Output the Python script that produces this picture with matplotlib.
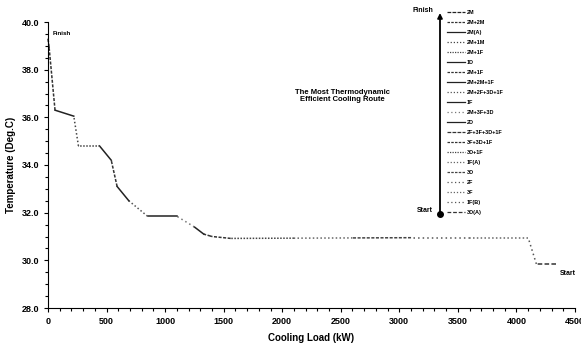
import numpy as np
import matplotlib
matplotlib.use("Agg")
import matplotlib.pyplot as plt
from matplotlib.lines import Line2D

plt.rcParams['font.family'] = ['Liberation Sans', 'DejaVu Sans']

# -- Route points, from Start (right) back to Finish (left)
load_kw = [4340, 4170, 4100, 3600, 3100, 2600, 2100, 1560, 1400, 1330, 1250,
           1100, 850, 690, 590, 540, 440, 260, 220, 60, 10, 0]
temp_c = [29.85, 29.85, 30.95, 30.95, 30.95, 30.94, 30.93, 30.92, 31.0, 31.1, 31.4,
          31.85, 31.85, 32.5, 33.1, 34.2, 34.8, 34.8, 36.05, 36.3, 38.9, 39.3]

# -- Chiller combination for each segment (Start -> Finish)
segment_labels = ["3D(A)", "1F(B)", "3F", "2F", "3D", "1F(A)", "3D+1F", "3F+3D+1F",
                  "2F+3F+3D+1F", "2D", "2M+3F+3D", "1F", "2M+2F+3D+1F", "2M+2M+1F",
                  "2M+1F", "1D", "2M+1F", "2M+1M", "2M(A)", "2M+2M", "2M"]

# -- Line style per segment
seg_styles = [(0, (3, 1.5)), (0, (1, 2)), (0, (1, 1.5)), (0, (1, 2)), (0, (2, 1)),
              (0, (1, 1.5)), (0, (1, 1)), (0, (2, 1)), (0, (3, 1)), '-', (0, (1, 2)),
              '-', (0, (1, 1.5)), '-', (0, (2, 1)), '-', (0, (1, 1)), (0, (1, 1.5)),
              '-', (0, (2, 1)), (0, (3, 1))]
seg_colors = ['#333333', '#555555', '#666666', '#555555', '#444444', '#666666',
              '#444444', '#333333', '#333333', '#222222', '#777777', '#222222',
              '#555555', '#222222', '#333333', '#222222', '#444444', '#444444',
              '#222222', '#333333', '#222222']

fig = plt.figure(figsize=(5.81, 3.45), dpi=100)
ax = fig.add_axes([48 / 581, 1 - 308 / 345, 527 / 581, 286 / 345])

handles = []
for i, lab in enumerate(segment_labels):
    ax.plot(load_kw[i:i + 2], temp_c[i:i + 2], color=seg_colors[i],
            linestyle=seg_styles[i], linewidth=1.1, clip_on=False)
    handles.append(Line2D([0], [0], color=seg_colors[i], linestyle=seg_styles[i],
                          linewidth=0.9, label=lab))

ax.set_xlim(0, 4500)
ax.set_ylim(28, 40)
ax.set_xticks(np.arange(0, 4501, 500))
ax.set_xticks(np.arange(0, 4501, 100), minor=True)
ax.set_yticks(np.arange(28, 40.1, 2))
ax.set_yticks(np.arange(28, 40.1, 0.5), minor=True)
ax.yaxis.set_major_formatter(matplotlib.ticker.FormatStrFormatter('%.1f'))
ax.spines['top'].set_visible(False)
ax.spines['right'].set_visible(False)
ax.tick_params(which='both', direction='out', labelsize=6.5, width=0.8)
ax.tick_params(which='major', length=3)
ax.tick_params(which='minor', length=2)
for lbl in ax.get_xticklabels() + ax.get_yticklabels():
    lbl.set_fontweight('bold')

ax.set_xlabel("Cooling Load (kW)", fontsize=7, fontweight='bold', labelpad=5)
ax.set_ylabel("Temperature (Deg.C)", fontsize=7, fontweight='bold', labelpad=4)

ax.text(load_kw[-1] + 40, temp_c[-1] + 0.2, "Finish", fontsize=4.5, fontweight='bold',
        va='center', ha='left')
ax.text(load_kw[0] + 30, temp_c[0] - 0.4, "Start", fontsize=5, fontweight='bold',
        va='center', ha='left')
ax.text(0.558, 0.741, "The Most Thermodynamic\nEfficient Cooling Route",
        transform=ax.transAxes, fontsize=5.5, fontweight='bold', ha='center',
        va='center', linespacing=1.1)

# -- Legend, Finish at the top
fig.legend(handles=handles[::-1], loc='upper left',
           bbox_to_anchor=(447 / 581, 1 - 10 / 345), frameon=False,
           handlelength=3.3, handletextpad=0.25, labelspacing=0.9, borderpad=0,
           borderaxespad=0, prop={'weight': 'bold', 'size': 4})

# -- Start -> Finish arrow beside the legend
ax.annotate('', xy=(440 / 581, 1 - 13 / 345), xytext=(440 / 581, 1 - 214 / 345),
            xycoords='figure fraction', textcoords='figure fraction',
            arrowprops=dict(arrowstyle='-|>', lw=1.3, color='black', mutation_scale=7,
                            shrinkA=0, shrinkB=0))
ax.plot([440 / 581], [1 - 214 / 345], 'o', color='black', markersize=4,
        transform=fig.transFigure, clip_on=False)
fig.text(433 / 581, 1 - 11 / 345, "Finish", fontsize=5, fontweight='bold',
         ha='right', va='center')
fig.text(433 / 581, 1 - 211 / 345, "Start", fontsize=5, fontweight='bold',
         ha='right', va='center')

plt.savefig("out.png", dpi=100)
